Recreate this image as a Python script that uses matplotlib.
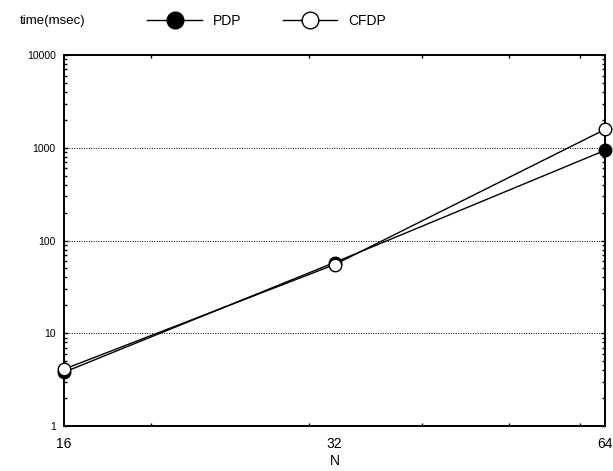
import matplotlib
matplotlib.use("Agg")
import matplotlib.pyplot as plt
from matplotlib.ticker import FixedLocator, NullFormatter, LogLocator
from matplotlib.lines import Line2D

plt.rcParams['font.family'] = ['Liberation Sans', 'DejaVu Sans']

# data
n_values = [16, 32, 64]
pdp_times = [3.8, 58, 940]
cfdp_times = [4.1, 55, 1580]
x_ticks = [16, 32, 64]
x_minor = [20, 30, 40, 50, 60]
y_ticks = [1, 10, 100, 1000, 10000]
y_grid = [10, 100, 1000]

fig = plt.figure(figsize=(6.13, 4.71), dpi=100)
ax = fig.add_axes([0.1044, 0.0955, 0.8826, 0.7875])

# PDP underneath, CFDP (open circles) on top as in the reference
ax.plot(n_values, pdp_times, color='black', lw=1.0, marker='o', ms=9,
        mfc='black', mec='black', zorder=3, clip_on=False)
ax.plot(n_values, cfdp_times, color='black', lw=1.0, marker='o', ms=9,
        mfc='white', mec='black', mew=1.0, zorder=4, clip_on=False)

ax.set_xscale('log', base=2)
ax.set_yscale('log')
ax.set_xlim(16, 64)
ax.set_ylim(1, 10000)

ax.xaxis.set_major_locator(FixedLocator(x_ticks))
ax.xaxis.set_minor_locator(FixedLocator(x_minor))
ax.xaxis.set_minor_formatter(NullFormatter())
ax.set_xticklabels([str(v) for v in x_ticks], fontsize=10)

ax.yaxis.set_major_locator(FixedLocator(y_ticks))
ax.yaxis.set_minor_locator(LogLocator(base=10, subs=range(2, 10)))
ax.yaxis.set_minor_formatter(NullFormatter())
ax.set_yticklabels([str(v) for v in y_ticks], fontsize=7.5)

ax.tick_params(which='both', direction='in', top=True, right=True)
ax.tick_params(which='major', axis='y', length=3, width=1, pad=6)
ax.tick_params(which='major', axis='x', length=0, pad=8)
ax.tick_params(which='minor', length=2, width=1)

for v in y_grid:
    ax.axhline(v, color='black', lw=0.7, ls=(0, (1, 1.5)), zorder=1)

for s in ax.spines.values():
    s.set_linewidth(1.4)

ax.set_xlabel('N', fontsize=10, labelpad=2)
fig.text(0.033, 0.955, 'time(msec)', fontsize=9.5, ha='left', va='center')

# legend across the top
handles = [
    Line2D([], [], color='black', lw=1.0, marker='o', ms=12, mfc='black', mec='black'),
    Line2D([], [], color='black', lw=1.0, marker='o', ms=12, mfc='white', mec='black'),
]
fig.legend(handles, ['PDP', 'CFDP'], loc='center', bbox_to_anchor=(0.435, 0.955),
           ncol=2, frameon=False, fontsize=10, handlelength=3.9,
           columnspacing=3.0, handletextpad=0.8)

plt.savefig('out.png', dpi=100)
